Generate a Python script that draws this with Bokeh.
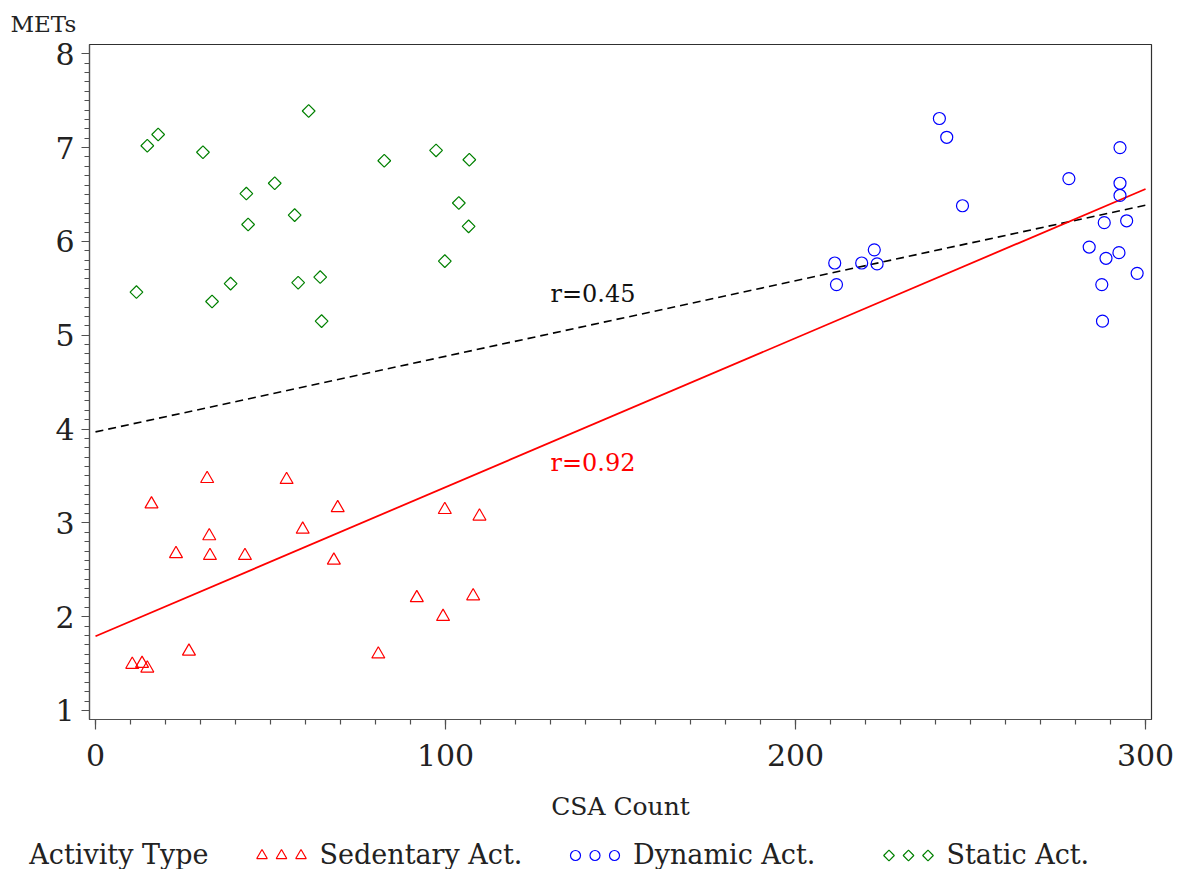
import numpy as np
from bokeh.plotting import figure
from bokeh.models import Range1d, Label, FixedTicker
from bokeh.layouts import column
from bokeh.embed import file_html
from bokeh.resources import INLINE
from bokeh.core.properties import value

# ---------------- data ----------------
sed_x = [31.9, 54.6, 16.0, 69.2, 99.8, 109.7, 32.5, 59.2, 23.0, 32.7,
         42.7, 68.1, 91.8, 107.9, 99.3, 80.8, 26.7, 10.5, 13.3, 14.8]
sed_y = [3.47, 3.46, 3.20, 3.16, 3.14, 3.07, 2.86, 2.93, 2.67, 2.65,
         2.65, 2.60, 2.20, 2.22, 2.00, 1.60, 1.63, 1.49, 1.50, 1.45]

dyn_x = [241.1, 243.2, 247.7, 292.7, 278.1, 292.7, 292.7, 294.6, 288.2, 283.9,
         292.4, 288.7, 297.6, 287.5, 287.7, 211.2, 211.7, 218.9, 222.5, 223.3]
dyn_y = [7.31, 7.11, 6.38, 7.00, 6.67, 6.62, 6.49, 6.22, 6.20, 5.94,
         5.88, 5.82, 5.66, 5.54, 5.15, 5.77, 5.54, 5.77, 5.91, 5.76]

sta_x = [14.8, 17.9, 30.7, 43.1, 51.2, 43.6, 56.9, 60.9, 82.5, 97.3,
         106.8, 103.8, 106.6, 99.8, 11.7, 33.3, 38.6, 57.9, 64.2, 64.6]
sta_y = [7.02, 7.14, 6.95, 6.51, 6.62, 6.18, 6.28, 7.39, 6.86, 6.97,
         6.87, 6.41, 6.16, 5.79, 5.46, 5.36, 5.55, 5.56, 5.62, 5.15]

# regression lines (end points)
fit_x = [0, 300]
fit_all_y = [3.97, 6.386]      # r = 0.45 (dashed black)
fit_sd_y = [1.791, 6.559]      # r = 0.92 (solid red)
r_labels = ["r=0.45", "r=0.92"]

x_ticks = [0, 100, 200, 300]
y_ticks = [1, 2, 3, 4, 5, 6, 7, 8]

legend_title = "Activity Type"
legend_labels = ["Sedentary Act.", "Dynamic Act.", "Static Act."]

# ---------------- styling ----------------
RED = "#ff0000"
BLUE = "#0000ff"
GREEN = "#008000"
SERIF = "DejaVu Serif"
TXT = "#222222"

x_lo, x_hi = -1.714, 301.7
y_lo, y_hi = 0.904, 8.099

W = 1186
H1 = 830
H2 = 39

p = figure(width=W, height=H1, output_backend="svg", toolbar_location=None,
           x_range=Range1d(x_lo, x_hi), y_range=Range1d(y_lo, y_hi),
           min_border_left=89, min_border_right=35, min_border_top=43,
           min_border_bottom=H1 - 719)
p.xgrid.visible = False
p.ygrid.visible = False
p.outline_line_color = "#303030"
p.outline_line_width = 1.2
p.background_fill_color = "white"
p.border_fill_color = "white"

# y-axis title drawn at the top-left corner
p.title.text = "METs"
p.title.align = "left"
p.title.offset = -79
p.title.standoff = 16
p.title.text_font = SERIF
p.title.text_font_size = "23px"
p.title.text_font_style = "normal"
p.title.text_color = TXT

p.xaxis.ticker = FixedTicker(ticks=x_ticks, minor_ticks=list(range(0, 301, 10)))
p.yaxis.ticker = FixedTicker(ticks=y_ticks,
                             minor_ticks=[round(1 + 0.1 * i, 1) for i in range(71)])
for ax in (p.xaxis[0], p.yaxis[0]):
    ax.axis_line_color = "#505050"
    ax.axis_line_width = 1.2
    ax.major_tick_line_color = "#505050"
    ax.minor_tick_line_color = "#505050"
    ax.major_tick_line_width = 1.2
    ax.minor_tick_line_width = 1.2
    ax.major_tick_in = 0
    ax.minor_tick_in = 0
    ax.minor_tick_out = 5
    ax.major_label_text_font = SERIF
    ax.major_label_text_font_size = "30px"
    ax.major_label_text_color = TXT
p.xaxis.major_tick_out = 10
p.yaxis.major_tick_out = 8
p.xaxis.major_label_standoff = 14
p.yaxis.major_label_standoff = 7

p.xaxis.axis_label = "CSA Count"
p.xaxis.axis_label_text_font = SERIF
p.xaxis.axis_label_text_font_size = "25px"
p.xaxis.axis_label_text_font_style = "normal"
p.xaxis.axis_label_text_color = TXT
p.xaxis.axis_label_standoff = 23

# regression lines
p.line(fit_x, fit_all_y, line_color="black", line_width=1.6, line_dash="8 5")
p.line(fit_x, fit_sd_y, line_color=RED, line_width=1.8)

# points
p.scatter(sed_x, sed_y, marker="triangle", size=13, fill_color=None,
          line_color=RED, line_width=1.2)
p.scatter(dyn_x, dyn_y, marker="circle", size=12, fill_color=None,
          line_color=BLUE, line_width=1.2)
p.scatter(sta_x, sta_y, marker="square", size=9, angle=np.pi / 4,
          fill_color=None, line_color=GREEN, line_width=1.2)

# correlation annotations (text centred on the label position)
p.add_layout(Label(x=130, y=5.438, text=r_labels[0], text_font=SERIF,
                   text_font_size="24px", text_color="#111111",
                   text_baseline="middle", text_align="left"))
p.add_layout(Label(x=130, y=3.640, text=r_labels[1], text_font=SERIF,
                   text_font_size="24px", text_color=RED,
                   text_baseline="middle", text_align="left"))

# ---------------- legend strip ----------------
lg = figure(frame_width=W, frame_height=H2, output_backend="svg",
            toolbar_location=None,
            x_range=Range1d(0, W), y_range=Range1d(0, H2),
            x_axis_type=None, y_axis_type=None, min_border=0)
if "frame_align" in lg.properties():
    lg.frame_align = False
    p.frame_align = False
lg.outline_line_color = None
lg.xgrid.visible = False
lg.ygrid.visible = False

text_y = 15.5
mark_y = 14.0
lg.text([28.8], [text_y], text=[legend_title], text_font=value(SERIF),
        text_font_size="27px", text_color=TXT,
        text_baseline="middle", text_align="left")

groups = [
    (261.5, "triangle", 10.5, 0.0, RED),
    (575.0, "circle", 10, 0.0, BLUE),
    (888.5, "square", 7.5, np.pi / 4, GREEN),
]
for (gx, mk, sz, ang, col), lab in zip(groups, legend_labels):
    xs = [gx + 19.5 * k for k in range(3)]
    lg.scatter(xs, [mark_y] * 3, marker=mk, size=sz, angle=ang,
               fill_color=None, line_color=col, line_width=1.2)
    lg.text([gx + 57.5], [text_y], text=[lab], text_font=value(SERIF),
            text_font_size="27px", text_color=TXT,
            text_baseline="middle", text_align="left")

layout = column(p, lg, spacing=0)

open("out.html", "w").write(file_html(layout, INLINE))
